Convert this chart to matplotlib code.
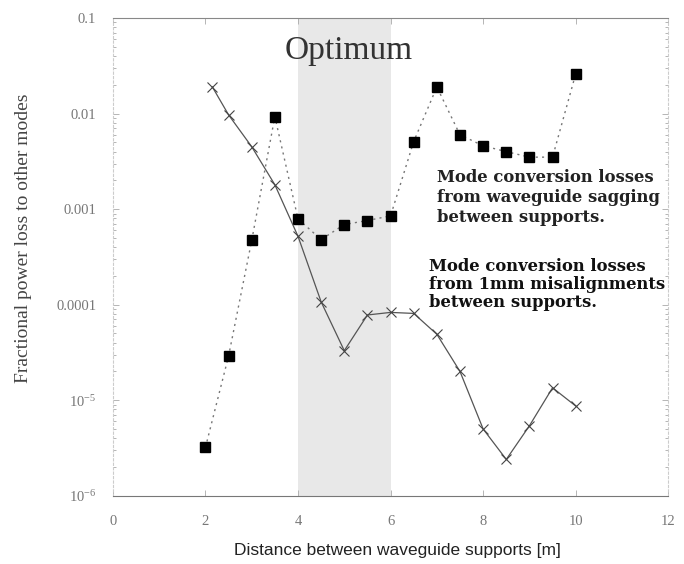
import matplotlib
matplotlib.use("Agg")
import matplotlib.pyplot as plt
from matplotlib.ticker import FixedLocator, LogLocator, NullFormatter

plt.rcParams["mathtext.fontset"] = "custom"
plt.rcParams["mathtext.rm"] = "Liberation Serif"
plt.rcParams["mathtext.it"] = "Liberation Serif:italic"
plt.rcParams["mathtext.bf"] = "Liberation Serif:bold"

# ---- data ----
sag_x = [2, 2.5, 3, 3.5, 4, 4.5, 5, 5.5, 6, 6.5, 7, 7.5, 8, 8.5, 9, 9.5, 10]
sag_y = [3.2e-6, 2.9e-5, 4.7e-4, 9.3e-3, 7.9e-4, 4.8e-4, 6.9e-4, 7.6e-4, 8.5e-4,
         5.1e-3, 1.9e-2, 6.0e-3, 4.6e-3, 4.0e-3, 3.5e-3, 3.5e-3, 2.6e-2]

mis_x = [2.15, 2.5, 3, 3.5, 4, 4.5, 5, 5.5, 6, 6.5, 7, 7.5, 8, 8.5, 9, 9.5, 10]
mis_y = [1.9e-2, 9.7e-3, 4.5e-3, 1.8e-3, 5.2e-4, 1.07e-4, 3.3e-5, 7.8e-5, 8.3e-5,
         8.1e-5, 4.9e-5, 2.0e-5, 5.0e-6, 2.4e-6, 5.4e-6, 1.35e-5, 8.7e-6]

optimum_range = [4, 6]

y_ticks = [1e-6, 1e-5, 1e-4, 1e-3, 1e-2, 1e-1]
y_ticklabels = ["10$^{-6}$", "10$^{-5}$", "0.0001", "0.001", "0.01", "0.1"]
x_ticks = [0, 2, 4, 6, 8, 10, 12]
x_ticklabels = ["0", "2", "4", "6", "8", "10", "12"]

title_text = "Optimum"
note_sag = "Mode conversion losses\nfrom waveguide sagging\nbetween supports."
note_mis = "Mode conversion losses\nfrom 1mm misalignments\nbetween supports."
xlabel = "Distance between waveguide supports [m]"
ylabel = "Fractional power loss to other modes"

# ---- figure ----
fig = plt.figure(figsize=(6.84, 5.64), dpi=100)
ax = fig.add_axes([0.165, 0.121, 0.812, 0.847])

ax.set_yscale("log")
ax.set_xlim(0, 12)
ax.set_ylim(1e-6, 1e-1)

ax.axvspan(optimum_range[0], optimum_range[1], color="#e8e8e8", zorder=0, lw=0)

ax.plot(sag_x, sag_y, linestyle=(0, (1.5, 3)), color="#777777", lw=1.0,
        marker="s", markersize=6.5, markerfacecolor="black",
        markeredgecolor="black", zorder=3)
ax.plot(mis_x, mis_y, linestyle="-", color="#555555", lw=0.9,
        marker="x", markersize=7, markeredgewidth=0.8,
        markeredgecolor="#444444", zorder=3)

ax.text(5.1, 0.046, title_text, ha="center", va="center",
        family="Liberation Serif", fontsize=24, color="#333333")

ax.text(7.0, 2.6e-3, note_sag, ha="left", va="top", family="DejaVu Serif",
        fontweight="bold", fontsize=11.8, color="#222222", linespacing=1.2)
ax.text(6.82, 3.1e-4, note_mis, ha="left", va="top", family="DejaVu Serif",
        fontweight="bold", fontsize=11.8, color="#111111", linespacing=1.1)

ax.yaxis.set_major_locator(FixedLocator(y_ticks))
ax.set_yticklabels(y_ticklabels)
ax.yaxis.set_minor_locator(LogLocator(base=10, subs=range(2, 10), numticks=20))
ax.yaxis.set_minor_formatter(NullFormatter())
ax.set_xticks(x_ticks)
ax.set_xticklabels(x_ticklabels)

for lab in ax.get_xticklabels() + ax.get_yticklabels():
    lab.set_family("Liberation Serif")
    lab.set_fontsize(10.5)
    lab.set_color("#777777")

ax.tick_params(axis="both", which="both", direction="in", top=True, right=True,
               color="#aaaaaa", width=0.6)
ax.tick_params(which="major", length=4)
ax.tick_params(which="minor", length=2)
ax.tick_params(axis="y", pad=12)
ax.tick_params(axis="x", pad=14)

for side, col in [("left", "#cccccc"), ("right", "#cccccc"),
                  ("top", "#888888"), ("bottom", "#777777")]:
    ax.spines[side].set_color(col)
    ax.spines[side].set_linewidth(0.8)
ax.spines["left"].set_linestyle((0, (2, 2)))
ax.spines["right"].set_linestyle((0, (2, 2)))

ax.set_xlabel(xlabel, family="Liberation Sans", fontsize=12.5, color="#222222")
ax.xaxis.set_label_coords(0.512, -0.098)
ax.set_ylabel(ylabel, family="Liberation Serif", fontsize=14, color="#444444")
ax.yaxis.set_label_coords(-0.145, 0.54)

fig.savefig("out.png", dpi=100, facecolor="white")
